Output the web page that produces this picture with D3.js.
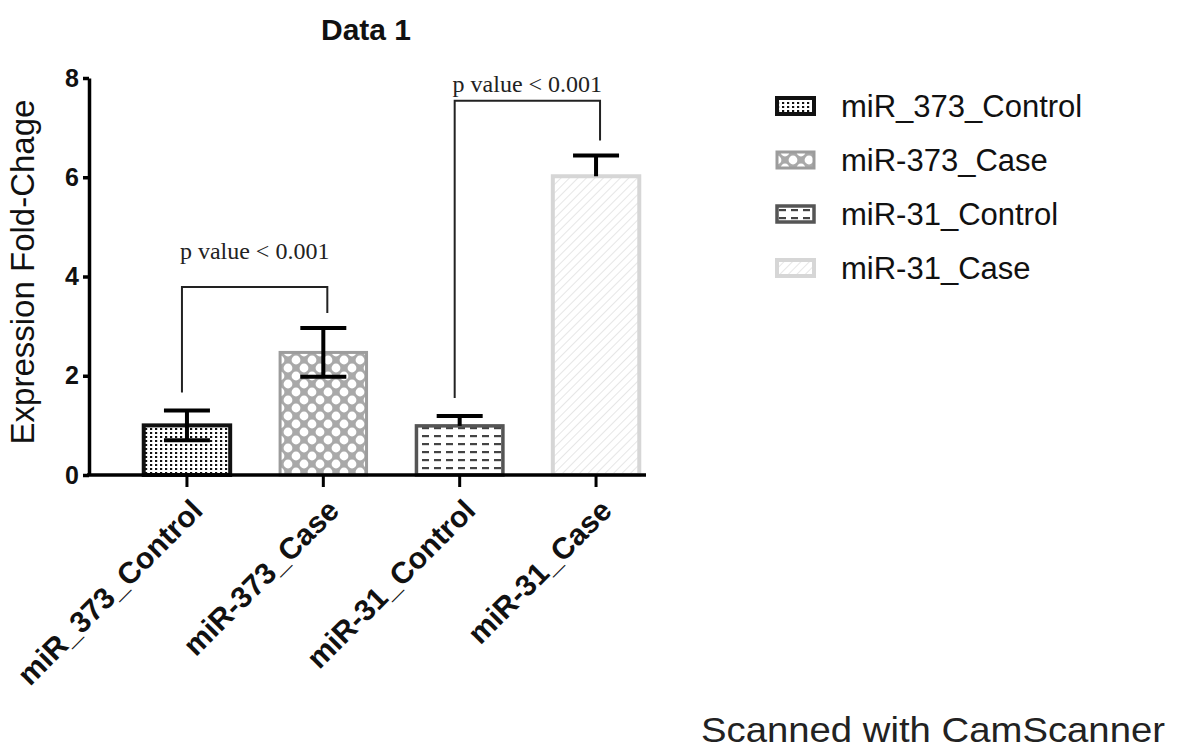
<!DOCTYPE html>
<html>
<head>
<meta charset="utf-8">
<script src="https://cdn.jsdelivr.net/npm/d3@7"></script>
<style>
  body { margin: 0; background: #fff; }
  svg { display: block; }
</style>
</head>
<body>
<div id="chart"></div>
<script>
// values
const groups = ['miR_373_Control', 'miR-373_Case', 'miR-31_Control', 'miR-31_Case'];
const means = [1.0, 2.47, 0.99, 6.02];
const errors = [0.3, 0.49, 0.2, 0.42];
const yTicks = [0, 2, 4, 6, 8];
const comparisons = [[0, 1], [2, 3]];
const comparisonLevels = [3.79, 7.54];
const comparisonLabels = ['p value < 0.001', 'p value < 0.001'];

const width = 1180;
const height = 751;
const sans = 'Arial, "Liberation Sans", sans-serif';
const serif = '"Liberation Serif", "Times New Roman", serif';

const svg = d3.select('#chart')
  .append('svg')
  .attr('width', width)
  .attr('height', height)
  .style('font-family', sans);

// fill patterns, one per group
const defs = svg.append('defs');

const p1 = defs.append('pattern').attr('id', 'pat0')
  .attr('patternUnits', 'userSpaceOnUse').attr('width', 5).attr('height', 4);
p1.append('rect').attr('width', 5).attr('height', 4).attr('fill', '#fff');
p1.append('rect').attr('width', 2.2).attr('height', 2).attr('fill', '#111');

const p2 = defs.append('pattern').attr('id', 'pat1')
  .attr('patternUnits', 'userSpaceOnUse').attr('width', 16).attr('height', 16);
p2.append('rect').attr('width', 16).attr('height', 16).attr('fill', '#a9a9a9');
[[0, 0], [16, 0], [8, 8], [0, 16], [16, 16]].forEach(c => {
  p2.append('circle').attr('cx', c[0]).attr('cy', c[1]).attr('r', 4.4).attr('fill', '#fff');
});

const p3 = defs.append('pattern').attr('id', 'pat2')
  .attr('patternUnits', 'userSpaceOnUse').attr('width', 12).attr('height', 8);
p3.append('rect').attr('width', 12).attr('height', 8).attr('fill', '#fff');
p3.append('rect').attr('x', 2).attr('y', 3).attr('width', 7).attr('height', 2.2).attr('fill', '#444');

const p4 = defs.append('pattern').attr('id', 'pat3')
  .attr('patternUnits', 'userSpaceOnUse').attr('width', 6).attr('height', 6)
  .attr('patternTransform', 'rotate(45)');
p4.append('rect').attr('width', 6).attr('height', 6).attr('fill', '#fff');
p4.append('line').attr('x1', 0).attr('y1', 0).attr('x2', 0).attr('y2', 6)
  .attr('stroke', '#d6d6d6').attr('stroke-width', 1.2);

const strokes = ['#111', '#9c9c9c', '#555', '#d6d6d6'];
const strokeWidths = [4, 3, 3.5, 4];

// scales
const y = d3.scaleLinear()
  .domain([0, 8])
  .range([475, 78]);

const x = d3.scaleBand()
  .domain(groups)
  .range([96, 687])
  .paddingInner(0.366)
  .paddingOuter(0.35);

// bars
svg.append('g').selectAll('rect')
  .data(groups)
  .join('rect')
  .attr('x', d => x(d))
  .attr('y', (d, i) => y(means[i]))
  .attr('width', x.bandwidth())
  .attr('height', (d, i) => y(0) - y(means[i]))
  .attr('fill', (d, i) => `url(#pat${i})`)
  .attr('stroke', (d, i) => strokes[i])
  .attr('stroke-width', (d, i) => strokeWidths[i]);

// error bars (lower half only visible on the first two)
const lowerShown = [true, true, false, false];
const capW = 46;
const eb = svg.append('g').attr('stroke', '#000').attr('stroke-width', 4);
groups.forEach((g, i) => {
  const cx = x(g) + x.bandwidth() / 2;
  const top = y(means[i] + errors[i]);
  const bottom = lowerShown[i] ? y(means[i] - errors[i]) : y(means[i]);
  eb.append('line').attr('x1', cx).attr('x2', cx).attr('y1', top).attr('y2', bottom);
  eb.append('line').attr('x1', cx - capW / 2).attr('x2', cx + capW / 2).attr('y1', top).attr('y2', top);
  if (lowerShown[i]) {
    eb.append('line').attr('x1', cx - capW / 2).attr('x2', cx + capW / 2).attr('y1', bottom).attr('y2', bottom);
  }
});

// axes
const yAxis = svg.append('g')
  .attr('transform', 'translate(89,0)')
  .call(d3.axisLeft(y).tickValues(yTicks).tickSize(6).tickSizeOuter(0).tickPadding(4));
yAxis.selectAll('path, line').attr('stroke', '#000').attr('stroke-width', 3.5);
yAxis.selectAll('text')
  .style('font-family', sans)
  .style('font-size', '25px')
  .style('font-weight', 'bold')
  .attr('fill', '#111');

const xAxis = svg.append('g')
  .attr('transform', `translate(0,${y(0)})`)
  .call(d3.axisBottom(x).tickSize(12).tickSizeOuter(0));
xAxis.select('.domain').remove();
xAxis.append('line')
  .attr('x1', 87).attr('x2', 646)
  .attr('stroke', '#000').attr('stroke-width', 3.5);
xAxis.selectAll('.tick line').attr('stroke', '#000').attr('stroke-width', 3);
xAxis.selectAll('.tick text')
  .style('font-family', sans)
  .style('font-size', '30px')
  .style('font-weight', 'bold')
  .attr('fill', '#111')
  .attr('text-anchor', 'end')
  .attr('dy', '0.35em')
  .attr('transform', 'translate(10,30) rotate(-45)')
  .attr('x', 0).attr('y', 0);

// significance brackets
const textGap = [28, 9];
const legGap = [18, 15];
comparisons.forEach((c, k) => {
  const xa = x(groups[c[0]]) + x.bandwidth() / 2 - 5;
  const xb = x(groups[c[1]]) + x.bandwidth() / 2 + 4;
  const yl = y(comparisonLevels[k]);
  const ya = y(means[c[0]] + errors[c[0]]) - legGap[0];
  const yb = y(means[c[1]] + errors[c[1]]) - legGap[1];
  svg.append('path')
    .attr('d', `M${xa},${ya}V${yl}H${xb}V${yb}`)
    .attr('fill', 'none')
    .attr('stroke', '#222')
    .attr('stroke-width', 2);
  svg.append('text')
    .attr('x', (xa + xb) / 2)
    .attr('y', yl - textGap[k])
    .attr('text-anchor', 'middle')
    .style('font-family', serif)
    .style('font-size', '24px')
    .attr('fill', '#222')
    .text(comparisonLabels[k]);
});

// title
svg.append('text')
  .attr('x', 366)
  .attr('y', 40)
  .attr('text-anchor', 'middle')
  .style('font-size', '30px')
  .style('font-weight', 'bold')
  .attr('fill', '#111')
  .text('Data 1');

// y axis label
svg.append('text')
  .attr('transform', 'translate(34,272) rotate(-90)')
  .attr('text-anchor', 'middle')
  .style('font-size', '33px')
  .attr('fill', '#111')
  .text('Expression Fold-Chage');

// legend
const legend = svg.append('g').attr('transform', 'translate(777,106)');
const rows = legend.selectAll('g')
  .data(groups)
  .join('g')
  .attr('transform', (d, i) => `translate(0,${i * 54})`);
rows.append('rect')
  .attr('x', 0).attr('y', -8)
  .attr('width', 37).attr('height', 16)
  .attr('fill', (d, i) => `url(#pat${i})`)
  .attr('stroke', (d, i) => strokes[i])
  .attr('stroke-width', (d, i) => strokeWidths[i]);
rows.append('text')
  .attr('x', 64).attr('y', 11)
  .style('font-size', '31px')
  .attr('fill', '#111')
  .text(d => d);

// scanner footer
svg.append('text')
  .attr('x', 701)
  .attr('y', 742)
  .style('font-size', '35px')
  .attr('textLength', 464)
  .attr('lengthAdjust', 'spacingAndGlyphs')
  .attr('fill', '#222')
  .text('Scanned with CamScanner');
</script>
</body>
</html>
